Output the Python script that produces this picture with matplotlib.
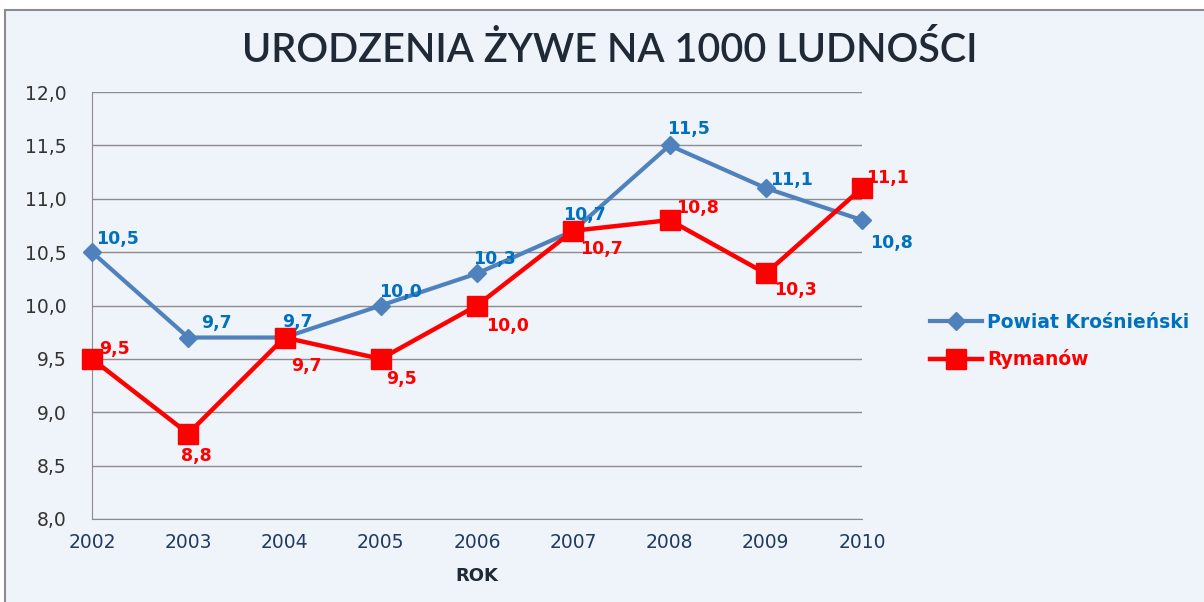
import matplotlib
matplotlib.use("Agg")
import matplotlib.pyplot as plt
from matplotlib.patches import Rectangle

# dane
years = [2002, 2003, 2004, 2005, 2006, 2007, 2008, 2009, 2010]
powiat = [10.5, 9.7, 9.7, 10.0, 10.3, 10.7, 11.5, 11.1, 10.8]
rymanow = [9.5, 8.8, 9.7, 9.5, 10.0, 10.7, 10.8, 10.3, 11.1]
y_ticks = [8.0, 8.5, 9.0, 9.5, 10.0, 10.5, 11.0, 11.5, 12.0]

# przesunięcia etykiet (piksele)
powiat_off = [(25, 13), (28, 15), (13, 16), (20, 13), (17, 14), (11, 16), (19, 16), (26, 8), (29, -23)]
rymanow_off = [(22, 10), (8, -22), (22, -28), (21, -20), (31, -20), (28, -18), (28, 12), (30, -17), (26, 10)]

bg = "#EFF3FA"
blue_line = "#4F81BD"
blue_text = "#0070C0"
red = "#FF0000"

fig = plt.figure(figsize=(12.04, 6.02), dpi=100)
fig.patch.set_facecolor("white")
fig.patches.append(Rectangle((5 / 1204, -0.05), 1.1, 1 - 10 / 602 + 0.05,
                             transform=fig.transFigure, facecolor=bg,
                             edgecolor="#8C8C8C", linewidth=1.5, zorder=-5))

ax = fig.add_axes([92 / 1204, 1 - 519 / 602, 770 / 1204, 427 / 602])
ax.set_facecolor(bg)
ax.set_xlim(2002, 2010)
ax.set_ylim(8.0, 12.0)

ax.set_yticks(y_ticks)
ax.set_yticklabels([f"{v:.1f}".replace(".", ",") for v in y_ticks])
ax.set_xticks(years)
ax.set_xticklabels([str(y) for y in years])
ax.tick_params(axis="both", length=0, labelsize=13.5)
ax.tick_params(axis="y", pad=18, labelcolor="#333333")
ax.tick_params(axis="x", pad=10, labelcolor="#1F3B5F")
ax.grid(axis="y", color="#8C8C8C", linewidth=1)
ax.set_axisbelow(True)
for side in ["top", "right"]:
    ax.spines[side].set_visible(False)
for side in ["left", "bottom"]:
    ax.spines[side].set_color("#8C8C8C")

ax.plot(years, powiat, color=blue_line, linewidth=3, marker="D", markersize=9,
        label="Powiat Krośnieński", clip_on=False, zorder=3)
ax.plot(years, rymanow, color=red, linewidth=3.2, marker="s", markersize=14,
        label="Rymanów", clip_on=False, zorder=4)

for x, v, off in zip(years, powiat, powiat_off):
    ax.annotate(f"{v:.1f}".replace(".", ","), (x, v), xytext=off,
                textcoords="offset pixels", ha="center", va="center",
                color=blue_text, fontsize=12.5, fontweight="bold", zorder=5)
for x, v, off in zip(years, rymanow, rymanow_off):
    ax.annotate(f"{v:.1f}".replace(".", ","), (x, v), xytext=off,
                textcoords="offset pixels", ha="center", va="center",
                color=red, fontsize=12.5, fontweight="bold", zorder=5)

ax.set_xlabel("ROK", fontsize=13, fontweight="bold", color="#1F2A36", labelpad=11)

fig.suptitle("URODZENIA ŻYWE NA 1000 LUDNOŚCI", x=610 / 1204, y=1 - 50 / 602,
             va="center", fontsize=28.5, family="Lato", fontweight="semibold",
             color="#1F2A36")

leg = fig.legend(loc="center left", bbox_to_anchor=(913 / 1204, 1 - 341 / 602),
                 frameon=False, handlelength=2.8,
                 labelspacing=0.95, handletextpad=0.25,
                 prop={"weight": "bold", "size": 13.5})
for txt, c in zip(leg.get_texts(), [blue_text, red]):
    txt.set_color(c)

fig.savefig("out.png", dpi=100, facecolor=fig.get_facecolor())
